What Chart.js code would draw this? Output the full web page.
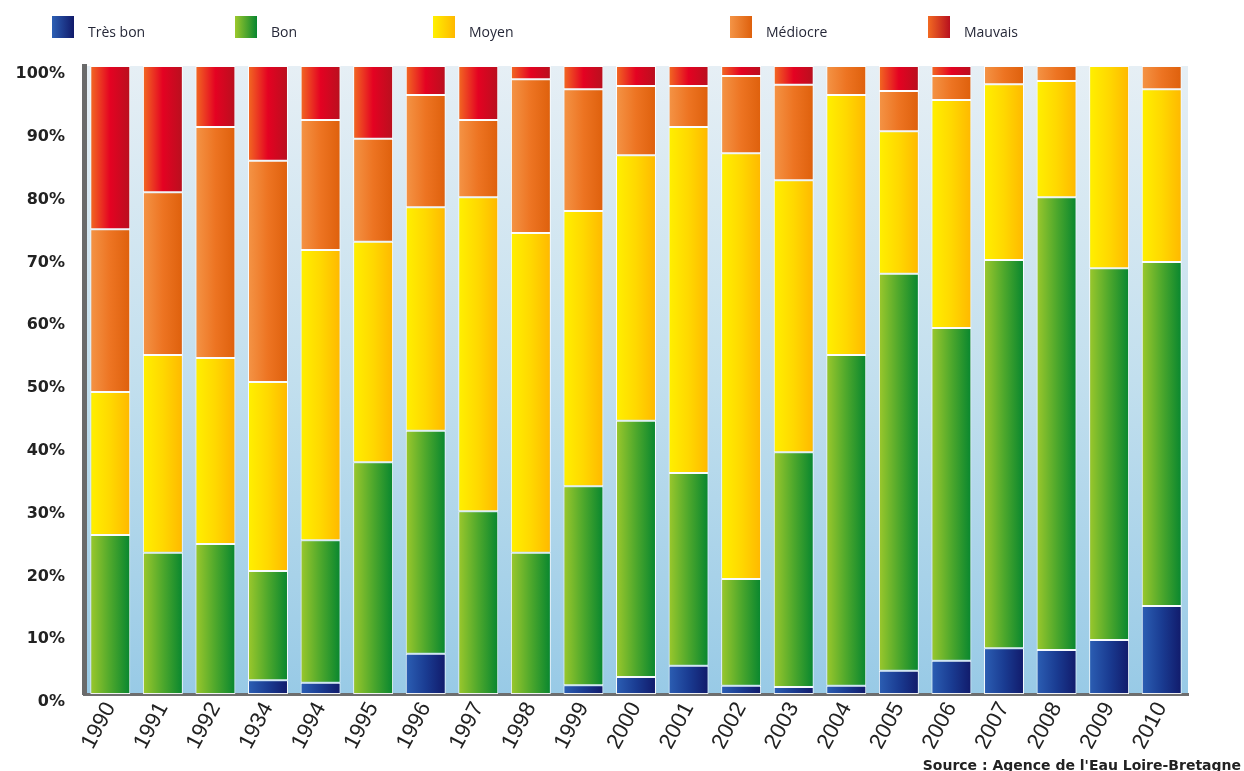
<!DOCTYPE html>
<html>
<head>
<meta charset="utf-8">
<script src="https://cdn.jsdelivr.net/npm/chart.js@4.4.1/dist/chart.umd.min.js"></script>
<style>
  html, body { margin: 0; padding: 0; background: #fff; }
  #wrap { width: 1244px; height: 771px; position: relative; }
</style>
</head>
<body>
<div id="wrap"><canvas id="chart"></canvas></div>
<script>
// categories (the "1934" label is as printed in the source)
var years = ['1990','1991','1992','1934','1994','1995','1996','1997','1998','1999','2000',
             '2001','2002','2003','2004','2005','2006','2007','2008','2009','2010'];

// shares in %
var tresBon  = [0, 0, 0, 2.2, 1.8, 0, 6.4, 0, 0, 1.4, 2.7, 4.5, 1.3, 1.1, 1.3, 3.7, 5.3, 7.3, 7.0, 8.6, 14.0];
var bon      = [25.3, 22.5, 23.9, 17.4, 22.7, 36.9, 35.5, 29.1, 22.5, 31.7, 40.8, 30.7, 17.0, 37.4, 52.7, 63.2, 53.0, 61.8, 72.1, 59.2, 54.8];
var moyen    = [22.8, 31.5, 29.6, 30.1, 46.2, 35.1, 35.6, 50.0, 50.9, 43.8, 42.3, 55.1, 67.8, 43.3, 41.4, 22.7, 36.3, 28.0, 18.5, 32.2, 27.5];
var mediocre = [25.9, 25.9, 36.8, 35.2, 20.7, 16.4, 17.9, 12.3, 24.5, 19.4, 11.0, 6.5, 12.3, 15.2, 4.6, 6.4, 3.8, 2.9, 2.4, 0, 3.7];
var mauvais  = [26.0, 20.1, 9.7, 15.1, 8.6, 11.6, 4.6, 8.6, 2.1, 3.7, 3.2, 3.2, 1.6, 3.0, 0, 4.0, 1.6, 0, 0, 0, 0];

var seriesNames = ['Très bon', 'Bon', 'Moyen', 'Médiocre', 'Mauvais'];
var yTicks = [0, 10, 20, 30, 40, 50, 60, 70, 80, 90, 100];

// left -> right shading of each bar
var shades = [
  ['#2c5fb4', '#1a3c92', '#111a6a'],
  ['#9cc82c', '#4ea82c', '#07862f'],
  ['#fff000', '#ffd800', '#ffb800'],
  ['#f49446', '#ed7422', '#de600c'],
  ['#f26a22', '#e40222', '#b8101e']
];

var BAR_PCT = 0.76;

function barGradient(idx) {
  return function(ctx) {
    var chart = ctx.chart;
    var stops = shades[idx];
    if (!chart.chartArea || ctx.type !== 'data') return stops[1];
    var xs = chart.scales.x;
    var cx = xs.getPixelForValue(ctx.dataIndex);
    var w = xs.width / years.length * BAR_PCT;
    var g = chart.ctx.createLinearGradient(cx - w / 2, 0, cx + w / 2, 0);
    g.addColorStop(0, stops[0]);
    g.addColorStop(0.5, stops[1]);
    g.addColorStop(1, stops[2]);
    return g;
  };
}

var backdrop = {
  id: 'backdrop',
  beforeDraw: function(chart) {
    var a = chart.chartArea, c = chart.ctx;
    var g = c.createLinearGradient(0, a.top, 0, a.bottom);
    g.addColorStop(0, '#e6eff5');
    g.addColorStop(0.5, '#c2dfee');
    g.addColorStop(1, '#98cae6');
    c.save();
    c.fillStyle = g;
    c.fillRect(a.left, a.top, a.right - a.left, a.bottom - a.top);
    c.restore();
  }
};

var legendXs = [52, 235, 433, 730, 928];
var topLegend = {
  id: 'topLegend',
  afterDraw: function(chart) {
    var c = chart.ctx;
    c.save();
    seriesNames.forEach(function(name, i) {
      var x = legendXs[i];
      var g = c.createLinearGradient(x, 0, x + 22, 0);
      g.addColorStop(0, shades[i][0]);
      g.addColorStop(1, shades[i][2]);
      c.fillStyle = g;
      c.fillRect(x, 16, 22, 22);
      c.fillStyle = '#262838';
      c.font = '14px "Open Sans", sans-serif';
      c.textBaseline = 'middle';
      c.textAlign = 'left';
      c.fillText(name, x + 36, 33);
    });
    c.font = 'bold 14px "DejaVu Sans", sans-serif';
    c.textAlign = 'right';
    c.textBaseline = 'alphabetic';
    c.fillStyle = '#222';
    c.fillText("Source : Agence de l'Eau Loire-Bretagne", 1241, 770);
    c.restore();
  }
};

var datasets = [tresBon, bon, moyen, mediocre, mauvais].map(function(vals, i) {
  return {
    label: seriesNames[i],
    data: vals,
    backgroundColor: barGradient(i),
    borderColor: 'rgba(255,255,255,0.9)',
    borderWidth: 1,
    borderSkipped: false,
    barPercentage: BAR_PCT,
    categoryPercentage: 1
  };
});

new Chart(document.getElementById('chart'), {
  type: 'bar',
  data: { labels: years, datasets: datasets },
  options: {
    responsive: true,
    maintainAspectRatio: false,
    animation: false,
    layout: { padding: { top: 66, right: 56, left: 0, bottom: 0 } },
    plugins: {
      legend: { display: false },
      tooltip: { enabled: false }
    },
    scales: {
      x: {
        stacked: true,
        afterFit: function(s) { s.height = 77; },
        grid: { display: false, drawTicks: false },
        border: { display: true, color: '#6e6e6e', width: 3 },
        ticks: {
          minRotation: 62, maxRotation: 62, padding: 4,
          color: '#222',
          font: { family: '"Liberation Sans", Arial, sans-serif', size: 22 }
        }
      },
      y: {
        stacked: true,
        min: 0, max: 100,
        afterFit: function(s) { s.width = 84; },
        afterBuildTicks: function(s) { s.ticks = yTicks.map(function(v) { return { value: v }; }); },
        grid: { display: false, drawTicks: false },
        border: { display: true, color: '#6a6a6a', width: 5 },
        ticks: {
          padding: 19,
          labelOffset: 8,
          color: '#222',
          font: { family: '"DejaVu Sans", sans-serif', size: 16, weight: 'bold' },
          callback: function(v) { return v + '%'; }
        }
      }
    }
  },
  plugins: [backdrop, topLegend]
});
</script>
</body>
</html>
